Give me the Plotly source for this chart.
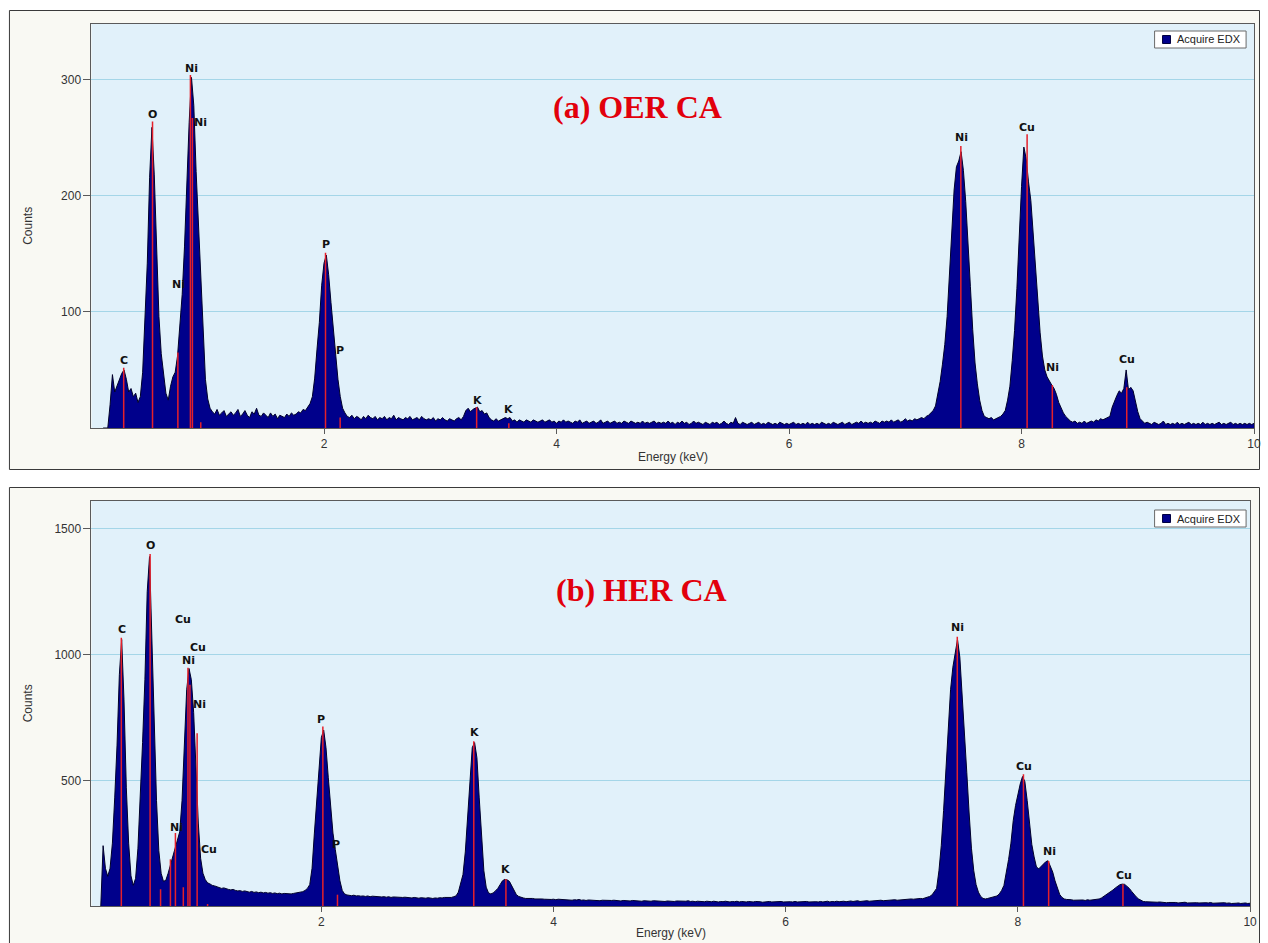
import numpy as np
import plotly.graph_objects as go

W, H = 1268, 943

# EDX channel calibration (keV)
channel_start = 0.10
channel_step = 0.02

# (a) OER CA spectrum, counts per channel
counts_oer = [
    0, 0, 0, 20, 46, 31, 36, 41, 47, 50,
    42, 31, 34, 27, 30, 22, 27, 48, 92, 142,
    216, 259, 218, 152, 96, 64, 44, 30, 24, 36,
    44, 48, 62, 85, 115, 156, 216, 263, 302, 278,
    221, 176, 121, 76, 42, 25, 17, 14, 12, 16,
    11, 13, 15, 10, 12, 14, 11, 13, 16, 10,
    12, 15, 11, 9, 14, 12, 17, 11, 10, 13,
    11, 9, 13, 10, 12, 8, 11, 10, 9, 12,
    10, 13, 11, 12, 14, 13, 16, 15, 18, 21,
    27, 43, 68, 91, 123, 142, 149, 132, 108, 84,
    62, 42, 27, 17, 13, 10, 9, 11, 8, 10,
    9, 7, 10, 8, 11, 9, 8, 10, 7, 9,
    8, 10, 7, 9, 8, 11, 7, 9, 8, 7,
    9, 8, 10, 7, 8, 9, 7, 10, 8, 7,
    8, 7, 9, 6, 8, 7, 9, 7, 6, 8,
    7, 6, 8, 9, 7, 10, 15, 17, 14, 16,
    17, 18, 14, 15, 12, 13, 9, 7, 6, 8,
    6, 7, 8, 9, 8, 9, 6, 7, 5, 7,
    6, 5, 7, 6, 5, 7, 6, 5, 6, 7,
    5, 6, 7, 5, 6, 4, 6, 5, 7, 5,
    6, 5, 4, 6, 5, 7, 4, 5, 6, 4,
    5, 6, 4, 5, 7, 4, 5, 6, 4, 5,
    6, 4, 5, 4, 6, 5, 4, 6, 5, 4,
    5, 4, 6, 4, 5, 4, 5, 6, 4, 5,
    4, 5, 4, 6, 4, 5, 3, 5, 4, 6,
    4, 5, 3, 4, 6, 4, 5, 4, 3, 5,
    4, 3, 5, 4, 5, 3, 4, 6, 4, 3,
    5, 4, 9, 4, 3, 5, 4, 3, 4, 5,
    3, 4, 5, 3, 4, 3, 5, 4, 3, 4,
    3, 5, 4, 3, 4, 3, 4, 5, 3, 4,
    3, 4, 3, 5, 3, 4, 3, 4, 3, 5,
    4, 3, 4, 3, 5, 4, 3, 4, 5, 3,
    4, 5, 3, 4, 5, 4, 6, 4, 5, 4,
    5, 4, 6, 5, 4, 6, 5, 6, 5, 7,
    5, 6, 7, 5, 6, 8, 6, 7, 6, 8,
    7, 8, 9, 8, 10, 11, 13, 15, 19, 28,
    40, 55, 72, 96, 130, 168, 205, 225, 230, 238,
    222, 195, 162, 122, 85, 56, 38, 24, 15, 10,
    9, 8, 9, 7, 8, 9, 10, 12, 15, 24,
    36, 58, 84, 120, 170, 208, 242, 232, 212, 196,
    168, 138, 110, 82, 62, 50, 44, 40, 37, 34,
    29, 22, 17, 13, 10, 8, 6, 5, 6, 4,
    5, 4, 6, 4, 5, 6, 5, 7, 6, 8,
    7, 8, 9, 10, 18, 24, 28, 32, 30, 34,
    50, 33, 35, 32, 22, 14, 8, 6, 4, 5,
    4, 3, 5, 4, 3, 4, 6, 3, 4, 3,
    4, 3, 5, 3, 4, 3, 4, 5, 3, 4,
    3, 4, 3, 5, 3, 4, 3, 4, 3, 4,
    5, 3, 4, 3, 4, 5, 3, 4, 3, 4,
    3, 4, 3, 4, 3, 4,
]

# (b) HER CA spectrum, counts per channel
counts_her = [
    0, 240, 150, 118, 150, 250, 430, 640, 920, 1060,
    820, 470, 250, 120, 82, 110, 230, 420, 650, 900,
    1250, 1390, 1080, 700, 420, 220, 130, 98, 102, 130,
    165, 195, 235, 260, 295, 420, 640, 860, 945, 900,
    770, 560, 330, 190, 130, 105, 92, 88, 82, 80,
    76, 74, 70, 72, 68, 66, 64, 66, 62, 60,
    61, 58, 60, 57, 55, 58, 54, 56, 53, 55,
    52, 54, 51, 53, 50, 52, 49, 51, 48, 50,
    49, 51, 48, 50, 52, 51, 54, 57, 62, 70,
    85, 150, 290, 410, 560, 670, 700, 630, 510, 390,
    290, 225, 165, 100, 62, 48, 44, 42, 41, 43,
    40, 41, 39, 40, 38, 40, 37, 39, 38, 36,
    38, 36, 37, 35, 37, 34, 36, 35, 33, 35,
    34, 35, 33, 34, 32, 34, 33, 31, 33, 32,
    31, 33, 32, 30, 32, 31, 33, 32, 34, 33,
    35, 34, 37, 40, 55, 85, 125, 215, 360, 530,
    630, 650, 590, 430, 260, 140, 75, 52, 48, 52,
    60, 70, 85, 100, 106, 104, 98, 80, 58, 45,
    38, 34, 32, 30, 31, 29, 30, 28, 29, 27,
    28, 27, 26, 28, 26, 27, 25, 27, 26, 25,
    26, 24, 25, 23, 25, 24, 26, 23, 24, 22,
    24, 23, 22, 24, 23, 21, 23, 22, 24, 21,
    22, 23, 21, 22, 20, 22, 21, 23, 20, 22,
    21, 20, 22, 19, 21, 20, 22, 19, 21, 20,
    19, 21, 20, 18, 20, 19, 21, 18, 20, 19,
    18, 20, 19, 21, 18, 19, 17, 19, 18, 20,
    17, 19, 18, 17, 19, 18, 16, 18, 17, 19,
    18, 16, 18, 17, 19, 16, 18, 17, 16, 18,
    17, 16, 18, 16, 17, 15, 17, 16, 18, 16,
    17, 15, 16, 18, 16, 17, 15, 17, 16, 18,
    16, 17, 15, 16, 18, 16, 17, 15, 17, 16,
    18, 16, 17, 19, 16, 18, 17, 19, 17, 18,
    19, 17, 18, 20, 18, 19, 21, 18, 20, 19,
    21, 19, 20, 22, 20, 21, 23, 21, 22, 24,
    22, 23, 25, 23, 24, 26, 25, 27, 26, 28,
    27, 29, 28, 30, 29, 31, 34, 38, 44, 55,
    70, 140, 240, 380, 540, 716, 860, 950, 1000, 1060,
    990, 850, 700, 530, 370, 230, 140, 85, 55, 38,
    30, 28, 30, 32, 34, 36, 40, 48, 62, 82,
    130, 185, 250, 340, 400, 445, 485, 515, 495, 420,
    320, 245, 195, 155, 148, 158, 170, 176, 180, 160,
    135, 100, 68, 46, 34, 28, 26, 24, 25, 23,
    24, 22, 23, 24, 22, 25, 23, 24, 26, 28,
    28, 32, 38, 44, 50, 56, 64, 72, 80, 85,
    87, 86, 78, 70, 58, 46, 36, 28, 22, 18,
    17, 16, 15, 16, 14, 15, 16, 14, 15, 13,
    14, 15, 13, 14, 12, 14, 13, 15, 12, 13,
    12, 14, 13, 12, 13, 11, 13, 12, 14, 11,
    12, 13, 11, 12, 13, 11, 12, 10, 12, 11,
    12, 10, 11, 12, 10, 11,
]

# element marker lines (keV, counts)
line_energy_oer = [0.277, 0.525, 0.743, 0.851, 0.868, 0.94, 2.013, 2.139,
                   3.313, 3.59, 7.478, 8.048, 8.265, 8.905]
line_height_oer = [52, 264, 65, 304, 267, 5, 151, 9,
                   18, 4, 243, 253, 37, 35]

line_energy_her = [0.277, 0.525, 0.615, 0.70, 0.743, 0.811, 0.851, 0.868,
                   0.930, 1.02, 2.013, 2.139, 3.313, 3.59, 7.478, 8.048,
                   8.265, 8.905]
line_height_her = [1067, 1400, 67, 186, 290, 75, 948, 880,
                   687, 8, 714, 45, 655, 107, 1071, 524,
                   179, 87]

# element labels (text, keV, counts)
label_text_oer = ["C", "O", "Ni", "Ni", "Ni", "P", "P", "K", "K",
                  "Ni", "Cu", "Ni", "Cu"]
label_energy_oer = [0.28, 0.524, 0.857, 0.94, 0.745, 2.013, 2.14, 3.32, 3.59,
                    7.48, 8.05, 8.27, 8.91]
label_counts_oer = [58, 270, 310, 263, 124, 158, 67, 24, 16,
                    250, 259, 52, 59]

label_text_her = ["C", "O", "Cu", "Cu", "Ni", "Ni", "Ni", "Cu", "P", "P",
                  "K", "K", "Ni", "Cu", "Ni", "Cu"]
label_energy_her = [0.28, 0.524, 0.81, 0.94, 0.855, 0.95, 0.752, 1.03, 2.0, 2.13,
                    3.32, 3.59, 7.48, 8.05, 8.27, 8.915]
label_counts_her = [1099, 1433, 1139, 1028, 976, 802, 313, 226, 742, 246,
                    690, 147, 1107, 555, 218, 123]

x_ticks = [2, 4, 6, 8, 10]
y_ticks_oer = [100, 200, 300]
y_ticks_her = [500, 1000, 1500]

panel_titles = ["(a) OER CA", "(b) HER CA"]
series_name = "Acquire EDX"


def fx(px):
    return px / W


def fy(py):
    return 1 - py / H


energy_oer = np.round(channel_start + channel_step * np.arange(len(counts_oer)), 4)
energy_her = np.round(channel_start + channel_step * np.arange(len(counts_her)), 4)

# pixel geometry of the two panels
panels = [
    dict(frame=(9.5, 10.5, 1266.5, 469.5), plot=(92, 24, 1261, 428),
         xrange=[0, 10], yrange=[0, 348], yticks=y_ticks_oer,
         energy=energy_oer, counts=counts_oer,
         lx=line_energy_oer, lh=line_height_oer,
         tt=label_text_oer, te=label_energy_oer, tc=label_counts_oer,
         title_xy=(641, 107), xtitle_y=457, legend_y=31),
    dict(frame=(9.5, 487.5, 1266.5, 980), plot=(92, 501, 1257, 906),
         xrange=[0.02, 10], yrange=[0, 1611], yticks=y_ticks_her,
         energy=energy_her, counts=counts_her,
         lx=line_energy_her, lh=line_height_her,
         tt=label_text_her, te=label_energy_her, tc=label_counts_her,
         title_xy=(645, 590), xtitle_y=933, legend_y=510),
]

FILL = "#00008B"
EDGE = "#00002A"
MARK = "#E5202A"
AXIS = "#5A5A5A"
TXT = "#333333"

fig = go.Figure()
shapes = []
annotations = []
layout_axes = {}

for i, p in enumerate(panels):
    n = "" if i == 0 else str(i + 1)
    xa, ya = "x" + n, "y" + n
    x0, y0, x1, y1 = p["plot"]

    # spectrum
    fig.add_trace(go.Scatter(
        x=p["energy"], y=p["counts"], mode="lines", fill="tozeroy",
        fillcolor=FILL, line=dict(color=EDGE, width=1),
        xaxis=xa, yaxis=ya, showlegend=False, hoverinfo="skip"))

    # element marker lines
    mx, my = [], []
    for e, h in zip(p["lx"], p["lh"]):
        mx += [e, e, None]
        my += [0, h, None]
    fig.add_trace(go.Scatter(
        x=mx, y=my, mode="lines", line=dict(color=MARK, width=1.5),
        xaxis=xa, yaxis=ya, showlegend=False, hoverinfo="skip"))

    # element labels
    for t, e, c in zip(p["tt"], p["te"], p["tc"]):
        annotations.append(dict(
            x=e, y=c, xref=xa, yref=ya, text=t, showarrow=False,
            font=dict(family="DejaVu Sans", size=11, color="#111111", weight="bold")))

    layout_axes["xaxis" + n] = dict(
        domain=[fx(x0), fx(x1)], anchor=ya, range=p["xrange"],
        tickvals=x_ticks, ticks="outside", ticklen=5, tickcolor=AXIS,
        showline=True, linecolor=AXIS, linewidth=1, mirror=True,
        showgrid=False, zeroline=False, fixedrange=True,
        tickfont=dict(family="Liberation Sans", size=12, color=TXT))
    layout_axes["yaxis" + n] = dict(
        domain=[fy(y1), fy(y0)], anchor=xa, range=p["yrange"],
        tickvals=p["yticks"], ticks="outside", ticklen=7, tickcolor=AXIS,
        showline=True, linecolor=AXIS, linewidth=1, mirror=True,
        showgrid=True, gridcolor="#A4D6E8", gridwidth=1,
        zeroline=False, fixedrange=True,
        tickfont=dict(family="Liberation Sans", size=12, color=TXT))

    # panel frame and plot background
    f0, g0, f1, g1 = p["frame"]
    shapes.append(dict(type="rect", xref="paper", yref="paper", layer="below",
                       x0=fx(f0), x1=fx(f1), y0=fy(g1), y1=fy(g0),
                       fillcolor="#F9F9F3", line=dict(color="#3A3A3A", width=1)))
    shapes.append(dict(type="rect", xref="paper", yref="paper", layer="below",
                       x0=fx(x0), x1=fx(x1), y0=fy(y1), y1=fy(y0),
                       fillcolor="#E1F1FA", line=dict(width=0)))

    # panel title
    tx, ty = p["title_xy"]
    annotations.append(dict(
        x=fx(tx), y=fy(ty), xref="paper", yref="paper", text=panel_titles[i],
        showarrow=False, xanchor="center", yanchor="middle",
        font=dict(family="Liberation Serif", size=32, color="#E2000C", weight="bold")))

    # axis titles
    annotations.append(dict(
        x=fx(28), y=fy((y0 + y1) / 2), xref="paper", yref="paper", text="Counts",
        textangle=-90, showarrow=False, xanchor="center", yanchor="middle",
        font=dict(family="Liberation Sans", size=12, color=TXT)))
    annotations.append(dict(
        x=fx((x0 + x1) / 2), y=fy(p["xtitle_y"]), xref="paper", yref="paper",
        text="Energy (keV)", showarrow=False, xanchor="center", yanchor="middle",
        font=dict(family="Liberation Sans", size=12, color=TXT)))

    # legend box
    ly = p["legend_y"]
    shapes.append(dict(type="rect", xref="paper", yref="paper", layer="above",
                       x0=fx(1161), x1=fx(1253), y0=fy(ly + 17), y1=fy(ly),
                       fillcolor="#FFFFFF", line=dict(color="#6A6A6A", width=1)))
    shapes.append(dict(type="rect", xref="paper", yref="paper", layer="above",
                       x0=fx(1169), x1=fx(1177), y0=fy(ly + 12.5), y1=fy(ly + 4.5),
                       fillcolor=FILL, line=dict(color="#000040", width=1)))
    annotations.append(dict(
        x=fx(1182), y=fy(ly + 8.5), xref="paper", yref="paper", text=series_name,
        showarrow=False, xanchor="left", yanchor="middle",
        font=dict(family="Liberation Sans", size=11, color="#222222")))

fig.update_layout(
    width=W, height=H, margin=dict(l=0, r=0, t=0, b=0),
    paper_bgcolor="#FFFFFF", plot_bgcolor="rgba(0,0,0,0)",
    shapes=shapes, annotations=annotations, showlegend=False,
    **layout_axes)

fig.write_html("out.html", config={"displayModeBar": False})
